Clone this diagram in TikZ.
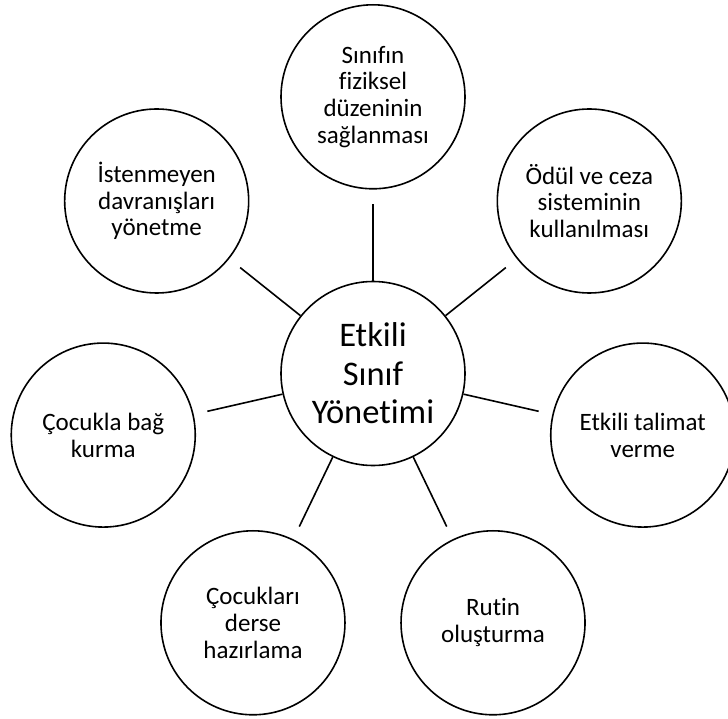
\documentclass[tikz,border=0pt]{standalone}
\usepackage{fontspec}
\setmainfont{Carlito}[Ligatures=NoCommon]
\usetikzlibrary{calc}
\tikzset{
  topic/.style={circle,draw=black,line width=1.6pt,minimum size=184pt,inner sep=0pt,
    align=center,font=\fontsize{25}{26.7}\selectfont},
  hub/.style={topic,font=\fontsize{34.5}{38.4}\selectfont},
  link/.style={line width=1.6pt,draw=black,shorten >=14pt}
}

\begin{document}
\begin{tikzpicture}[x=1pt,y=1pt]
\useasboundingbox (0,0) rectangle (728,-719);
\node[hub] (hub) at (373,-373.5) {Etkili\\Sınıf\\Yönetimi};
\node[topic] (fiziksel) at ($(hub)+(90:276.7)$) {Sınıfın\\fiziksel\\düzeninin\\sağlanması};
\node[topic] (odul) at ($(hub)+(38.57:276.7)$) {Ödül ve ceza\\sisteminin\\kullanılması};
\node[topic] (talimat) at ($(hub)+(-12.86:276.7)$) {Etkili talimat\\verme};
\node[topic] (rutin) at ($(hub)+(-64.29:276.7)$) {Rutin\\oluşturma};
\node[topic] (derse) at ($(hub)+(-115.71:276.7)$) {Çocukları\\derse\\hazırlama};
\node[topic] (bag) at ($(hub)+(-167.14:276.7)$) {Çocukla bağ\\kurma};
\node[topic] (davranis) at ($(hub)+(141.43:276.7)$) {İstenmeyen\\davranışları\\yönetme};
\draw[link] (hub) -- (fiziksel); \draw[link] (hub) -- (odul); \draw[link] (hub) -- (talimat);
\draw[link] (hub) -- (rutin); \draw[link] (hub) -- (derse); \draw[link] (hub) -- (bag);
\draw[link] (hub) -- (davranis);
\end{tikzpicture}
\end{document}
